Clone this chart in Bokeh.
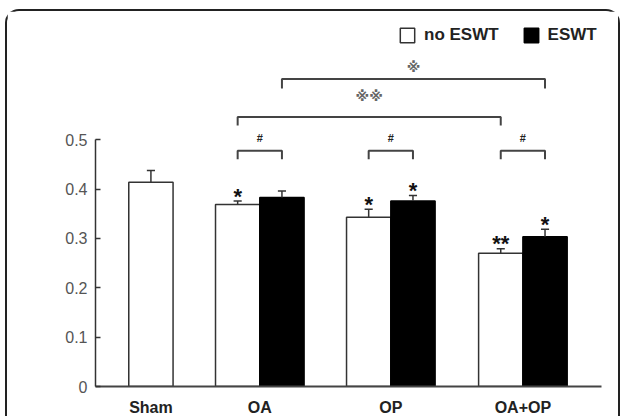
import math
from bokeh.plotting import figure
from bokeh.models import (ColumnDataSource, Range1d, FixedTicker, Legend, LegendItem, Label)
from bokeh.core.properties import value
from bokeh.embed import file_html
from bokeh.resources import INLINE

# ---- data ----
groups = ["Sham", "OA", "OP", "OA+OP"]
no_eswt = [0.414, 0.369, 0.343, 0.270]
no_eswt_sem = [0.024, 0.007, 0.016, 0.009]
eswt = [None, 0.383, 0.376, 0.3035]
eswt_sem = [None, 0.013, 0.011, 0.015]
marks_no = ["", "*", "*", "**"]
marks_eswt = ["", "", "*", "*"]
y_ticks = [0, 0.1, 0.2, 0.3, 0.4, 0.5]

# ---- layout constants ----
group_x = [0.423, 1.254, 2.254, 3.262]
bar_w = 0.338
cap_w = 0.062
FONT = "Liberation Sans"

p = figure(width=615, height=407, output_backend="svg", toolbar_location=None,
           x_range=Range1d(0, 3.862), y_range=Range1d(0, 0.76),
           min_border_left=88, min_border_right=21, min_border_top=0, min_border_bottom=30)
p.styles = {"margin-left": "5px", "margin-top": "9px",
            "border-top": "2px solid #222", "border-left": "2px solid #222",
            "border-right": "2px solid #222", "border-top-left-radius": "14px",
            "border-top-right-radius": "14px"}
p.outline_line_color = None
p.grid.visible = False
p.background_fill_color = "white"

# bar positions
no_x, e_x = [], []
for i, gx in enumerate(group_x):
    if eswt[i] is None:
        no_x.append(gx)
    else:
        no_x.append(gx - bar_w / 2)
        e_x.append(gx + bar_w / 2)
e_vals = [v for v in eswt if v is not None]
e_sems = [s for s in eswt_sem if s is not None]
e_marks = [m for v, m in zip(eswt, marks_eswt) if v is not None]

src_no = ColumnDataSource(dict(x=no_x, top=no_eswt, sem=no_eswt_sem))
src_e = ColumnDataSource(dict(x=e_x, top=e_vals, sem=e_sems))

r_no = p.vbar(x="x", top="top", width=bar_w, source=src_no, fill_color="white",
              line_color="#333333", line_width=1.5)
r_e = p.vbar(x="x", top="top", width=bar_w, source=src_e, fill_color="black",
             line_color="black", line_width=1.5)

# error bars (upper only)
ex = no_x + e_x
etop = no_eswt + e_vals
esem = no_eswt_sem + e_sems
p.segment(x0=ex, y0=etop, x1=ex, y1=[t + s for t, s in zip(etop, esem)],
          line_color="#333333", line_width=1.5)
p.segment(x0=[x - cap_w / 2 for x in ex], y0=[t + s for t, s in zip(etop, esem)],
          x1=[x + cap_w / 2 for x in ex], y1=[t + s for t, s in zip(etop, esem)],
          line_color="#333333", line_width=1.5)

# significance stars
sy = [t + s + 0.010 for t, s in zip(etop, esem)]
st = marks_no + e_marks
p.text(x=ex, y=sy, text=st, text_align="center", text_baseline="alphabetic",
       text_font=value(FONT), text_font_style="bold", text_font_size="22px",
       text_color="#111111")

# brackets
def bracket(x0, x1, ytop, ybot, color="#444444", lw=2):
    p.line(x=[x0, x0, x1, x1], y=[ybot, ytop, ytop, ybot], line_color=color, line_width=lw)

for i in range(1, 4):
    bracket(group_x[i] - bar_w / 2, group_x[i] + bar_w / 2, 0.4777, 0.4604)
p.text(x=group_x[1:], y=[0.503] * 3, text=["#"] * 3, text_align="center",
       text_baseline="middle", text_font=value(FONT), text_font_style="bold",
       text_font_size="11px", text_color="#222222")

bracket(group_x[1] - bar_w / 2, group_x[3] - bar_w / 2, 0.546, 0.529)
bracket(group_x[1] + bar_w / 2, group_x[3] + bar_w / 2, 0.623, 0.604)
p.text(x=[(group_x[1] + group_x[3] - bar_w) / 2, (group_x[1] + group_x[3] + bar_w) / 2],
       y=[0.588, 0.647], text=["※※", "※"], text_align="center", text_baseline="middle",
       text_font=value("DejaVu Sans"), text_font_style="bold",
       text_font_size="14px", text_color="#666666")

# axes
p.yaxis.ticker = FixedTicker(ticks=y_ticks)
p.yaxis.bounds = (0, 0.5)
p.yaxis.major_tick_in = 5
p.yaxis.major_tick_out = 0
p.yaxis.minor_tick_line_color = None
p.yaxis.axis_line_color = "#333333"
p.yaxis.axis_line_width = 1.5
p.yaxis.major_tick_line_color = "#333333"
p.yaxis.major_tick_line_width = 1.5
p.yaxis.major_label_text_font = FONT
p.yaxis.major_label_text_font_size = "16px"
p.yaxis.major_label_text_color = "#555555"
p.yaxis.major_label_standoff = 8
p.yaxis.major_label_overrides = {0: "0"}

p.xaxis.ticker = FixedTicker(ticks=group_x)
p.xaxis.major_label_overrides = {gx: g for gx, g in zip(group_x, groups)}
p.xaxis.major_tick_line_color = None
p.xaxis.minor_tick_line_color = None
p.xaxis.axis_line_color = "#444444"
p.xaxis.axis_line_width = 2
p.xaxis.major_label_text_font = FONT
p.xaxis.major_label_text_font_style = "bold"
p.xaxis.major_label_text_font_size = "16px"
p.xaxis.major_label_text_color = "#222222"
p.xaxis.major_label_standoff = 6

p.add_layout(Label(x=-0.408, y=0.276, text="BMD (g/cm²)", angle=math.pi / 2,
                   text_align="center", text_baseline="middle", text_font=FONT,
                   text_font_style="bold", text_font_size="17px", text_color="#222222"))

legend = Legend(items=[LegendItem(label="no ESWT", renderers=[r_no]),
                       LegendItem(label="ESWT", renderers=[r_e])],
                orientation="horizontal", location=(303, 341),
                glyph_width=18, glyph_height=18, label_standoff=8, spacing=23,
                padding=0, margin=0, border_line_alpha=0, background_fill_alpha=0,
                label_text_font=FONT, label_text_font_style="bold",
                label_text_font_size="17px", label_height=18, label_text_color="#222222")
p.add_layout(legend)

open("out.html", "w").write(file_html(p, INLINE))
